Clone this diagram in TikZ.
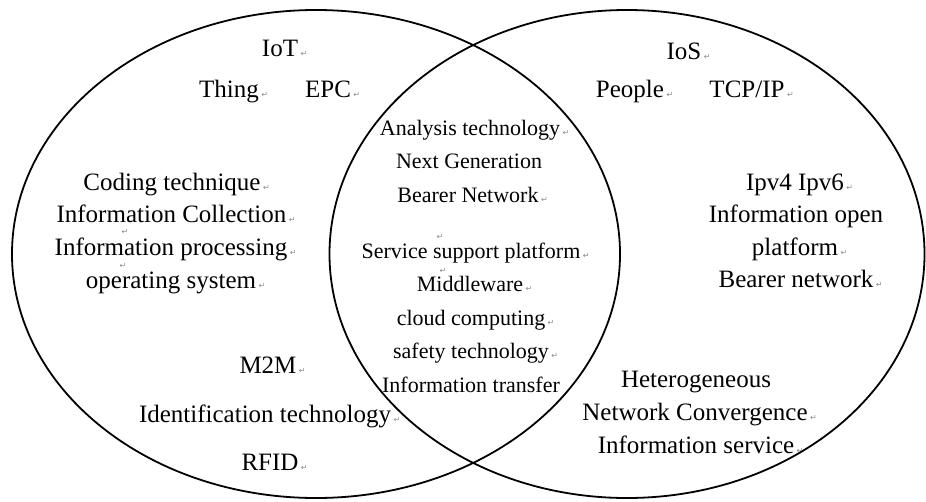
\documentclass[tikz,border=0pt]{standalone}
\usepackage{fontspec}
\setmainfont{Liberation Serif}
\newfontfamily\markfont{DejaVu Sans}
\newcommand{\pmk}{\rlap{\hspace{2.5pt}\textcolor{black!45}{\markfont\fontsize{8}{8}\selectfont ↵}}}
\newcommand{\smk}{\textcolor{black!45}{\markfont\fontsize{8}{8}\selectfont ↵}}
\tikzset{
  big/.style={font=\fontsize{25}{30}\selectfont, anchor=base, inner sep=0pt},
  mid/.style={font=\fontsize{22}{26}\selectfont, anchor=base, inner sep=0pt},
  stray/.style={anchor=base, inner sep=0pt},
  venn/.style={draw=black, line width=1.8pt}
}
\begin{document}
\begin{tikzpicture}[x=1pt,y=-1pt]
\useasboundingbox (0,0) rectangle (926,501);
\fill[white] (0,0) rectangle (926,501);
% circles
\draw[venn] (316,254) ellipse [x radius=304pt, y radius=244pt];
\draw[venn] (627,254) ellipse [x radius=297.5pt, y radius=244pt];
% left: IoT
\node[big] (iot) at (280,56) {IoT\pmk};
\node[big] (thing) at (229,97) {Thing\pmk};
\node[big] (epc) at (328,97) {EPC\pmk};
\node[big] (coding) at (172,190) {Coding technique\pmk};
\node[big] (collect) at (171.5,222) {Information Collection\pmk};
\node[big] (process) at (171,255) {Information processing\pmk};
\node[big] (os) at (171,288) {operating system\pmk};
\node[big] (m2m) at (268,373) {M2M\pmk};
\node[big] (ident) at (265,422) {Identification technology\pmk};
\node[big] (rfid) at (270,470) {RFID\pmk};
% centre
\node[mid] (analysis) at (470,135) {Analysis technology\pmk};
\node[mid] (nextgen) at (469,168) {Next Generation};
\node[mid] (bearerN) at (468,202) {Bearer Network\pmk};
\node[mid] (service) at (471,258) {Service support platform\pmk};
\node[mid] (middle) at (470,291) {Middleware\pmk};
\node[mid] (cloud) at (471,325) {cloud computing\pmk};
\node[mid] (safety) at (471,358) {safety technology\pmk};
\node[mid] (transfer) at (471,392) {Information transfer};
% right: IoS
\node[big] (ios) at (684,59) {IoS\pmk};
\node[big] (people) at (630,97) {People\pmk};
\node[big] (tcpip) at (747,97) {TCP/IP\pmk};
\node[big] (ipv) at (795,190) {Ipv4 Ipv6\pmk};
\node[big] (infoopen) at (796,222) {Information open};
\node[big] (platform) at (795,255) {platform\pmk};
\node[big] (bearern) at (796,287) {Bearer network\pmk};
\node[big] (hetero) at (696,387) {Heterogeneous};
\node[big] (netconv) at (695,420) {Network Convergence\pmk};
\node[big] (infoserv) at (696,453) {Information service\pmk};
% stray paragraph marks
\node[stray] (s1) at (125,234.5) {\smk};
\node[stray] (s2) at (123,268) {\smk};
\node[stray] (s3) at (440,239) {\smk};
\node[stray] (s4) at (443,273) {\smk};
\end{tikzpicture}
\end{document}
